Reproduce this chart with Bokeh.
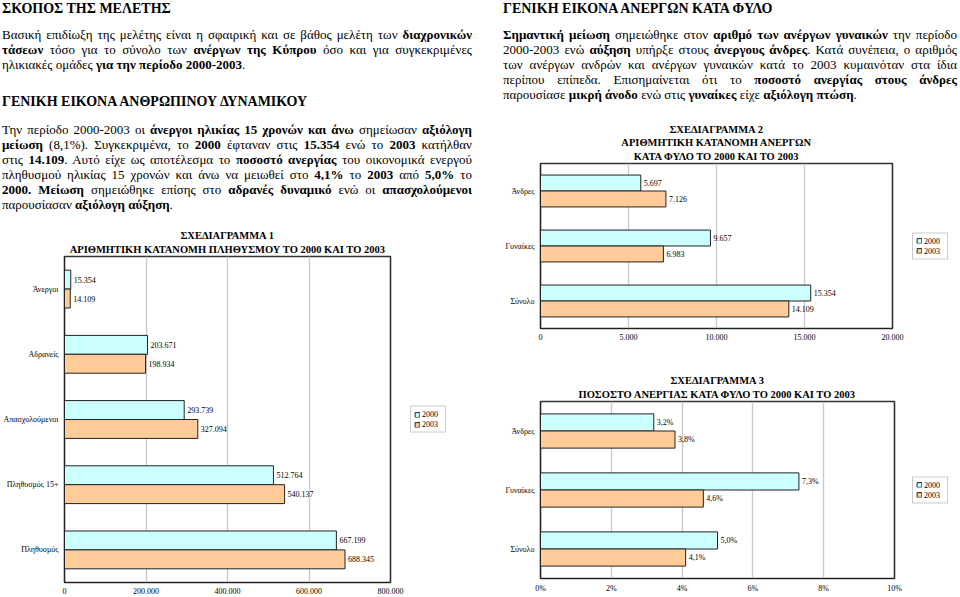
import numpy as np
from bokeh.plotting import figure
from bokeh.models import (FactorRange, Range1d, Title, Legend, LegendItem,
                          ColumnDataSource, FixedTicker, Div)
from bokeh.transform import dodge
from bokeh.core.properties import value
from bokeh.layouts import row, column
from bokeh.embed import file_html
from bokeh.resources import INLINE

# ---------------- data ----------------
years = ["2000", "2003"]

cats1 = ["Άνεργοι", "Αδρανείς", "Απασχολούμενοι", "Πληθυσμός 15+", "Πληθυσμός"]
pop_2000 = [15354, 203671, 293739, 512764, 667199]
pop_2003 = [14109, 198934, 327094, 540137, 688345]
ticks1 = [0, 200000, 400000, 600000, 800000]
tick_labels1 = ["0", "200.000", "400.000", "600.000", "800.000"]
title1 = ["ΣΧΕΔΙΑΓΡΑΜΜΑ 1", "ΑΡΙΘΜΗΤΙΚΗ ΚΑΤΑΝΟΜΗ ΠΛΗΘΥΣΜΟΥ ΤΟ 2000 ΚΑΙ ΤΟ 2003"]

cats2 = ["Άνδρες", "Γυναίκες", "Σύνολο"]
unemp_2000 = [5697, 9657, 15354]
unemp_2003 = [7126, 6983, 14109]
ticks2 = [0, 5000, 10000, 15000, 20000]
tick_labels2 = ["0", "5.000", "10.000", "15.000", "20.000"]
title2 = ["ΣΧΕΔΙΑΓΡΑΜΜΑ 2", "ΑΡΙΘΜΗΤΙΚΗ ΚΑΤΑΝΟΜΗ ΑΝΕΡΓΩΝ", "ΚΑΤΑ ΦΥΛΟ ΤΟ 2000 ΚΑΙ ΤΟ 2003"]

cats3 = ["Άνδρες", "Γυναίκες", "Σύνολο"]
rate_2000 = [3.2, 7.3, 5.0]
rate_2003 = [3.8, 4.6, 4.1]
ticks3 = [0, 2, 4, 6, 8, 10]
tick_labels3 = ["0%", "2%", "4%", "6%", "8%", "10%"]
title3 = ["ΣΧΕΔΙΑΓΡΑΜΜΑ 3", "ΠΟΣΟΣΤΟ ΑΝΕΡΓΙΑΣ ΚΑΤΑ ΦΥΛΟ ΤΟ 2000 ΚΑΙ ΤΟ 2003"]

# ---------------- text ----------------
head_left_1 = "ΣΚΟΠΟΣ ΤΗΣ ΜΕΛΕΤΗΣ"
para_left_1 = [
    "Βασική επιδίωξη της μελέτης είναι η σφαιρική και σε βάθος μελέτη των <b>διαχρονικών</b>",
    "<b>τάσεων</b> τόσο για το σύνολο των <b>ανέργων της Κύπρου</b> όσο και για συγκεκριμένες",
    "ηλικιακές ομάδες <b>για την περίοδο 2000-2003</b>.",
]
head_left_2 = "ΓΕΝΙΚΗ ΕΙΚΟΝΑ ΑΝΘΡΩΠΙΝΟΥ ΔΥΝΑΜΙΚΟΥ"
para_left_2 = [
    "Την περίοδο 2000-2003 οι <b>άνεργοι ηλικίας 15 χρονών και άνω</b> σημείωσαν <b>αξιόλογη</b>",
    "<b>μείωση</b> (8,1%). Συγκεκριμένα, το <b>2000</b> έφταναν στις <b>15.354</b> ενώ το <b>2003</b> κατήλθαν",
    "στις <b>14.109</b>. Αυτό είχε ως αποτέλεσμα το <b>ποσοστό ανεργίας</b> του οικονομικά ενεργού",
    "πληθυσμού ηλικίας 15 χρονών και άνω να μειωθεί στο <b>4,1%</b> το <b>2003</b> από <b>5,0%</b> το",
    "<b>2000. Μείωση</b> σημειώθηκε επίσης στο <b>αδρανές δυναμικό</b> ενώ οι <b>απασχολούμενοι</b>",
    "παρουσίασαν <b>αξιόλογη αύξηση</b>.",
]
head_right = "ΓΕΝΙΚΗ ΕΙΚΟΝΑ ΑΝΕΡΓΩΝ ΚΑΤΑ ΦΥΛΟ"
para_right = [
    "<b>Σημαντική μείωση</b> σημειώθηκε στον <b>αριθμό των ανέργων γυναικών</b> την περίοδο",
    "2000-2003 ενώ <b>αύξηση</b> υπήρξε στους <b>άνεργους άνδρες</b>. Κατά συνέπεια, ο αριθμός",
    "των ανέργων ανδρών και ανέργων γυναικών κατά το 2003 κυμαινόταν στα ίδια",
    "περίπου επίπεδα. Επισημαίνεται ότι το <b>ποσοστό ανεργίας στους άνδρες</b>",
    "παρουσίασε <b>μικρή άνοδο</b> ενώ στις <b>γυναίκες</b> είχε <b>αξιόλογη πτώση</b>.",
]

SERIF = "Liberation Serif"
C2000 = "#CCFFFF"
C2003 = "#FFCC99"
EDGE = "#222222"
BODY = f"font-family:'{SERIF}',serif;font-size:13px;color:#000;"


def lines_html(lines, top):
    out = [f'<div style="margin-top:{top}px">']
    for i, s in enumerate(lines):
        if i == len(lines) - 1:
            al = "text-align:left;"
        else:
            al = "text-align:justify;text-align-last:justify;"
        out.append(f'<div style="{al}white-space:nowrap;height:15px;line-height:15px">{s}</div>')
    out.append("</div>")
    return "".join(out)


def head_html(s, top):
    return (f'<div style="margin-top:{top}px;height:14px;line-height:14px;'
            f'font-size:14px;font-weight:bold">{s}</div>')


left_html = (f'<div style="{BODY}width:470px;margin-left:2px">'
             + head_html(head_left_1, 2)
             + lines_html(para_left_1, 11)
             + head_html(head_left_2, 23)
             + lines_html(para_left_2, 13)
             + "</div>")
right_html = (f'<div style="{BODY}width:454px;margin-left:23px">'
              + head_html(head_right, 2)
              + lines_html(para_right, 11)
              + "</div>")

div_left = Div(text=left_html, width=480, height=215, margin=0)
div_right = Div(text=right_html, width=480, height=112, margin=0)


def fmt_int(v):
    return f"{v:,}".replace(",", ".")


def fmt_pct(v):
    return f"{v:.1f}".replace(".", ",") + "%"


def bar_chart(cats, a, b, fmt, ticks, tick_labels, xmax, title_lines,
              total_w, height, left, frame_w, top, bottom, right, leg_x):
    width = left + frame_w + right
    p = figure(width=width, height=height,
               y_range=FactorRange(factors=list(reversed(cats))),
               x_range=Range1d(0, xmax),
               output_backend="svg", toolbar_location=None,
               min_border_left=left, min_border_right=right,
               min_border_top=top, min_border_bottom=bottom,
               title=title_lines[0])
    p.background_fill_color = "white"
    p.border_fill_color = "white"
    p.outline_line_color = "#333333"
    p.outline_line_width = 1.6

    def style_title(t, standoff):
        t.text_font = SERIF
        t.text_font_size = "10.5px"
        t.text_font_style = "bold"
        t.text_color = "black"
        t.text_line_height = 0.9
        t.align = "center"
        t.standoff = standoff
        t.offset = 0

    style_title(p.title, 0)
    for i, line in enumerate(reversed(title_lines[1:])):
        t = Title(text=line)
        style_title(t, 3 if i == 0 else 0)
        p.add_layout(t, "above")

    src = ColumnDataSource(dict(cat=cats, a=a, b=b,
                                la=[fmt(v) for v in a],
                                lb=[fmt(v) for v in b]))
    ya = dodge("cat", 0.145, range=p.y_range)
    yb = dodge("cat", -0.145, range=p.y_range)
    p.hbar(y=ya, left=0, right="a", height=0.29, source=src,
           fill_color=C2000, line_color=EDGE, line_width=1)
    p.hbar(y=yb, left=0, right="b", height=0.29, source=src,
           fill_color=C2003, line_color=EDGE, line_width=1)
    for xcol, y, lcol in (("a", ya, "la"), ("b", yb, "lb")):
        p.text(x=xcol, y=y, text=lcol, source=src, x_offset=3,
               text_baseline="middle", text_align="left",
               text_font=value(SERIF), text_font_size="8px", text_color="#000000")

    p.xaxis.ticker = FixedTicker(ticks=ticks)
    p.xaxis.major_label_overrides = {t: l for t, l in zip(ticks, tick_labels)}
    p.xaxis.minor_tick_line_color = None
    p.xaxis.major_tick_line_color = None
    p.xaxis.major_tick_out = 0
    p.xaxis.major_tick_in = 0
    p.xaxis.major_label_standoff = 5
    p.xaxis.axis_line_color = "#222222"
    p.xaxis.major_label_text_font = SERIF
    p.xaxis.major_label_text_font_size = "8px"
    p.xaxis.major_label_text_color = "black"

    p.yaxis.major_tick_line_color = None
    p.yaxis.minor_tick_line_color = None
    p.yaxis.major_tick_out = 0
    p.yaxis.major_tick_in = 0
    p.yaxis.axis_line_color = "#222222"
    p.yaxis.major_label_standoff = 6
    p.yaxis.major_label_text_font = SERIF
    p.yaxis.major_label_text_font_size = "8px"
    p.yaxis.major_label_text_color = "black"

    p.ygrid.grid_line_color = None
    p.xgrid.grid_line_color = "#C8C8C8"
    p.xgrid.grid_line_width = 1.3

    # legend panel: a companion figure whose frame spans the same rows
    lw = total_w - width
    lg = figure(width=lw, height=height, output_backend="svg",
                toolbar_location=None, x_axis_location=None,
                y_axis_location=None, min_border_left=0, min_border_right=0,
                min_border_top=top, min_border_bottom=bottom,
                x_range=Range1d(0, 1), y_range=Range1d(0, 1))
    lg.outline_line_color = None
    lg.grid.grid_line_color = None
    lg.background_fill_color = "white"
    lg.border_fill_color = "white"
    # legend keys only: a single undrawn (NaN) entry
    key_src = ColumnDataSource(dict(y=np.array([np.nan]), right=np.array([np.nan])))
    ka = lg.hbar(y="y", right="right", height=0.1, source=key_src,
                 fill_color=C2000, line_color=EDGE, line_width=1)
    kb = lg.hbar(y="y", right="right", height=0.1, source=key_src,
                 fill_color=C2003, line_color=EDGE, line_width=1)
    legend = Legend(items=[LegendItem(label=years[0], renderers=[ka]),
                           LegendItem(label=years[1], renderers=[kb])],
                    location="center_left", margin=leg_x,
                    label_text_font=SERIF, label_text_font_size="8px",
                    label_text_color="black",
                    glyph_width=6, glyph_height=6, label_height=9,
                    label_standoff=2, padding=3, spacing=1,
                    border_line_color="#999999", border_line_width=1,
                    background_fill_color="white")
    lg.add_layout(legend, "center")
    return row(p, lg, spacing=0)


c1 = bar_chart(cats1, pop_2000, pop_2003, fmt_int, ticks1, tick_labels1, 800000,
               title1, 480, 381, 64, 326, 41, 14, 14, 6)
c2 = bar_chart(cats2, unemp_2000, unemp_2003, fmt_int, ticks2, tick_labels2, 20000,
               title2, 480, 238, 60, 352, 51, 22, 14, 6)
c3 = bar_chart(cats3, rate_2000, rate_2003, fmt_pct, ticks3, tick_labels3, 10,
               title3, 480, 246, 60, 354, 51, 18, 14, 4)

layout = row(column(div_left, c1, spacing=0),
             column(div_right, c2, c3, spacing=0), spacing=0)

open("out.html", "w").write(file_html(layout, INLINE))
